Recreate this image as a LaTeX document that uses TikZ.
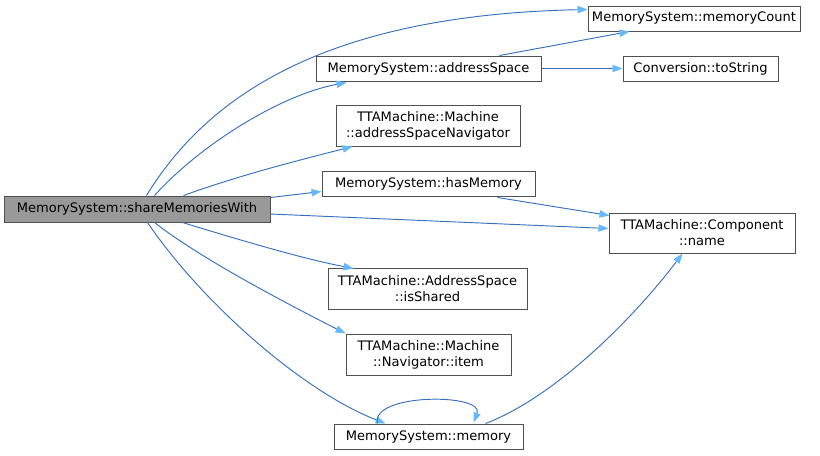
\documentclass[tikz,border=0pt]{standalone}
\usepackage{fontspec}
\setmainfont{DejaVu Sans}
\usetikzlibrary{arrows.meta,calc}
\definecolor{edgecol}{RGB}{52,112,192}
\definecolor{tipcol}{RGB}{99,184,255}
\definecolor{boxline}{RGB}{80,80,80}
\definecolor{rootfill}{RGB}{153,153,153}
\tikzset{
  fn/.style={draw=boxline,line width=0.75pt,fill=white,inner sep=0pt,align=center,
    font=\fontsize{9.8}{12}\selectfont},
  rootfn/.style={fn,fill=rootfill},
  call/.style={draw=edgecol,line width=0.7pt,
    -{Triangle[length=7.5pt,width=5.5pt,fill=tipcol,color=tipcol]}},
}
\begin{document}
\begin{tikzpicture}[x=0.75pt,y=-0.75pt]
\useasboundingbox (0,0) rectangle (820,455);
\node[rootfn,minimum width=199.5pt,minimum height=19.5pt] (share) at (137,209) {MemorySystem::shareMemoriesWith};
\node[fn,minimum width=159pt,minimum height=18.75pt] (mcount) at (694,18.5) {MemorySystem::memoryCount};
\node[fn,minimum width=168.75pt,minimum height=18.75pt] (aspace) at (428.5,68.5) {MemorySystem::addressSpace};
\node[fn,minimum width=116.25pt,minimum height=18.75pt] (tostr) at (700.5,68.5) {Conversion::toString};
\node[fn,minimum width=138pt,minimum height=30.75pt] (asnav) at (428,125.5) {TTAMachine::Machine\\::addressSpaceNavigator};
\node[fn,minimum width=159.75pt,minimum height=18.75pt] (hasmem) at (428.5,183.5) {MemorySystem::hasMemory};
\node[fn,minimum width=139.5pt,minimum height=30pt] (cname) at (702,233) {TTAMachine::Component\\::name};
\node[fn,minimum width=149.25pt,minimum height=30.75pt] (shared) at (427.5,288.5) {TTAMachine::AddressSpace\\::isShared};
\node[fn,minimum width=123.75pt,minimum height=30.75pt] (item) at (428.5,354.5) {TTAMachine::Machine\\::Navigator::item};
\node[fn,minimum width=141.75pt,minimum height=18.75pt] (mem) at (428.5,436.5) {MemorySystem::memory};

% edges from root
\draw[call] ($(share.north west)+(143,0)$) .. controls (205,100) and (320,15) .. ($(mcount.north west)+(0,4)$);
\draw[call] ($(share.north west)+(151,0)$) .. controls (200,145) and (280,95) .. ($(aspace.south west)+(31,1)$);
\draw[call] ($(share.north west)+(180,0)$) .. controls (240,175) and (300,160) .. ($(asnav.south west)+(17,0)$);
\draw[call] ($(share.north east)+(0,2)$) -- ($(hasmem.south west)+(0,-5)$);
\draw[call] ($(share.east)+(0,5)$) -- ($(cname.north west)+(0,16)$);
\draw[call] ($(share.south west)+(179,0)$) .. controls (240,240) and (300,258) .. ($(shared.north west)+(26,1)$);
\draw[call] ($(share.south west)+(151,0)$) .. controls (200,258) and (280,300) .. ($(item.north west)+(0,0)$);
\draw[call] ($(share.south west)+(144,0)$) .. controls (200,300) and (300,390) .. ($(mem.north west)+(52,0)$);
% other edges
\draw[call] ($(aspace.north west)+(184,0)$) -- ($(mcount.south west)+(42,0)$);
\draw[call] (aspace.east) -- (tostr.west);
\draw[call] ($(hasmem.south west)+(176,1)$) -- ($(cname.north west)+(1,3)$);
\draw[call] ($(mem.north east)+(-38,0)$) .. controls (560,395) and (640,310) .. ($(cname.south west)+(74,0)$);
\draw[call] ($(mem.north west)+(44,0)$) .. controls (370,393) and (485,393) .. ($(mem.north west)+(140,-1)$);
\end{tikzpicture}
\end{document}
